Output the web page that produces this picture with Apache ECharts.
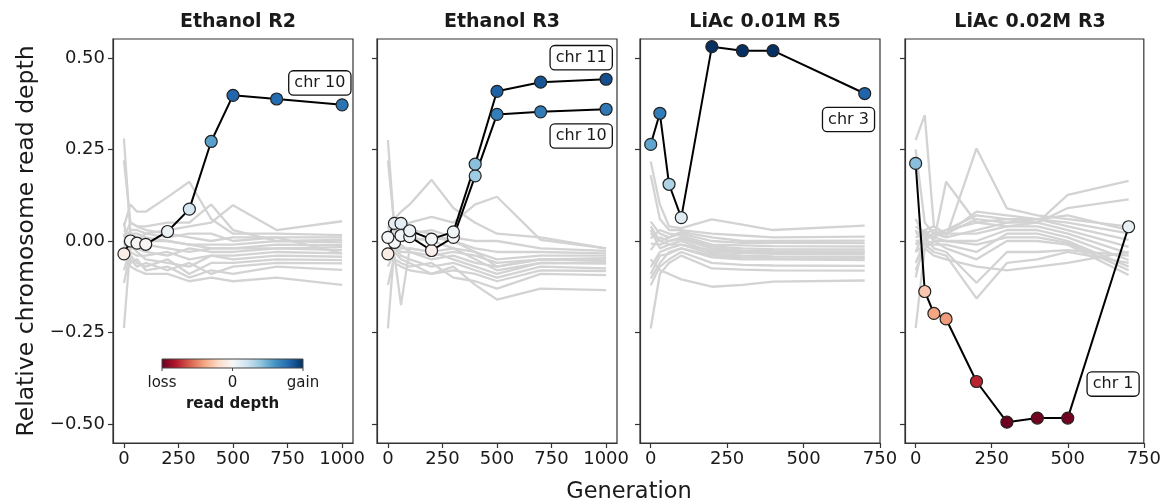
<!DOCTYPE html>
<html>
<head>
<meta charset="utf-8">
<script src="https://cdn.jsdelivr.net/npm/echarts@6/dist/echarts.min.js"></script>
<style>
  html, body { margin: 0; padding: 0; background: #fff; }
  #chart { width: 1164px; height: 504px; }
</style>
</head>
<body>
<div id="chart"></div>
<script>
// generations sampled in each experiment
const gensEthanol = [0, 30, 60, 100, 200, 300, 400, 500, 700, 1000]
const gensLiac1 = [0, 30, 60, 100, 200, 300, 400, 700]
const gensLiac2 = [0, 30, 60, 100, 200, 300, 400, 500, 700]

const panelTitles = ['Ethanol R2', 'Ethanol R3', 'LiAc 0.01M R5', 'LiAc 0.02M R3']
const yTicks = [-0.5, -0.25, 0, 0.25, 0.5]
const xTicksLong = [0, 250, 500, 750, 1000]
const xTicksShort = [0, 250, 500, 750]

// highlighted chromosomes
const ethR2Chr10 = [-0.035, 0.0, -0.006, -0.009, 0.026, 0.087, 0.272, 0.398, 0.388, 0.372]
const ethR3Chr11 = [0.010, 0.048, 0.048, 0.028, 0.005, 0.025, 0.210, 0.409, 0.434, 0.442]
const ethR3Chr10 = [-0.035, -0.004, 0.015, 0.012, -0.026, 0.010, 0.178, 0.346, 0.353, 0.360]
const liac1Chr3 = [0.264, 0.349, 0.155, 0.064, 0.531, 0.520, 0.520, 0.403]
const liac2Chr1 = [0.212, -0.138, -0.198, -0.213, -0.384, -0.495, -0.484, -0.484, 0.039]

// remaining chromosomes (grey)
const ethR2Other = [
  [0.28, 0.02, 0.02, 0.01, 0.00, -0.01, -0.02, -0.02, -0.02, -0.017],
  [0.22, 0.05, 0.04, 0.03, 0.02, 0.01, 0.00, 0.01, 0.01, 0.010],
  [0.04, 0.10, 0.08, 0.08, 0.12, 0.162, 0.06, 0.02, 0.02, 0.016],
  [0.01, 0.05, 0.04, 0.04, 0.05, 0.05, 0.10, 0.03, 0.00, 0.003],
  [0.00, 0.03, 0.03, 0.02, 0.03, 0.04, 0.05, 0.098, 0.03, 0.054],
  [-0.02, 0.02, 0.01, 0.00, 0.00, -0.01, -0.01, -0.01, 0.00, -0.004],
  [-0.05, 0.00, -0.01, -0.01, -0.02, -0.03, -0.02, -0.02, -0.01, -0.011],
  [-0.08, -0.02, -0.02, -0.03, -0.04, -0.02, -0.03, -0.03, -0.02, -0.025],
  [-0.115, -0.03, -0.04, -0.04, -0.03, -0.05, -0.04, -0.04, -0.03, -0.034],
  [-0.238, -0.01, -0.03, -0.05, -0.06, -0.07, -0.04, -0.05, -0.04, -0.043],
  [0.05, -0.04, -0.06, -0.07, -0.05, -0.09, -0.06, -0.06, -0.05, -0.052],
  [0.02, -0.05, -0.07, -0.06, -0.08, -0.06, -0.09, -0.07, -0.06, -0.061],
  [-0.03, -0.06, -0.05, -0.08, -0.07, -0.10, -0.08, -0.09, -0.07, -0.079],
  [0.00, -0.07, -0.08, -0.09, -0.09, -0.11, -0.10, -0.11, -0.10, -0.120],
  [0.03, 0.01, 0.00, 0.02, 0.01, 0.02, 0.02, 0.00, 0.01, -0.034]
]
const ethR3Other = [
  [0.276, 0.03, 0.02, 0.01, 0.00, -0.02, -0.05, -0.08, -0.06, -0.061],
  [0.22, 0.04, 0.03, 0.03, 0.02, 0.00, -0.03, -0.07, -0.05, -0.047],
  [0.00, 0.06, 0.08, 0.10, 0.167, 0.09, 0.05, 0.02, 0.01, -0.020],
  [0.02, 0.05, 0.04, 0.05, 0.066, 0.05, 0.10, 0.121, 0.003, -0.020],
  [-0.01, 0.03, 0.02, 0.02, 0.03, 0.01, 0.00, 0.00, -0.02, -0.027],
  [-0.03, 0.01, 0.00, 0.00, 0.01, 0.00, -0.02, -0.03, -0.03, -0.034],
  [-0.05, 0.00, -0.02, -0.02, -0.03, -0.02, -0.03, -0.05, -0.04, -0.040],
  [-0.239, -0.01, -0.03, -0.03, -0.05, -0.04, -0.06, -0.07, -0.05, -0.054],
  [-0.12, -0.04, -0.175, -0.02, -0.03, -0.05, -0.07, -0.09, -0.06, -0.061],
  [0.03, -0.02, -0.04, -0.05, -0.07, -0.06, -0.08, -0.10, -0.07, -0.075],
  [-0.07, -0.03, -0.05, -0.06, -0.09, -0.08, -0.09, -0.11, -0.08, -0.082],
  [0.01, -0.05, -0.06, -0.07, -0.06, -0.10, -0.11, -0.13, -0.09, -0.093],
  [-0.02, -0.06, -0.07, -0.08, -0.09, -0.07, -0.12, -0.16, -0.13, -0.134],
  [0.04, -0.02, -0.01, -0.03, -0.04, -0.03, -0.04, -0.06, -0.05, -0.054]
]
const liac1Other = [
  [0.217, 0.10, 0.04, 0.035, 0.059, 0.045, 0.030, 0.042],
  [0.18, 0.06, 0.03, 0.03, 0.02, 0.015, 0.01, 0.012],
  [0.053, 0.02, 0.01, 0.025, 0.01, 0.00, 0.00, 0.001],
  [0.021, 0.00, 0.01, 0.02, 0.00, -0.005, -0.005, -0.006],
  [0.007, 0.03, 0.02, 0.015, -0.01, -0.012, -0.014, -0.015],
  [-0.007, -0.01, 0.00, 0.01, -0.015, -0.02, -0.022, -0.023],
  [-0.025, 0.01, 0.00, 0.005, -0.02, -0.026, -0.028, -0.029],
  [0.03, -0.02, -0.01, 0.00, -0.03, -0.033, -0.035, -0.036],
  [-0.071, -0.03, -0.02, -0.01, -0.035, -0.04, -0.042, -0.043],
  [-0.103, -0.06, -0.03, -0.02, -0.045, -0.05, -0.05, -0.052],
  [-0.121, -0.07, -0.05, -0.03, -0.06, -0.065, -0.067, -0.068],
  [-0.239, -0.09, -0.06, -0.04, -0.075, -0.078, -0.08, -0.081],
  [-0.05, -0.08, -0.09, -0.105, -0.125, -0.12, -0.111, -0.108],
  [0.04, 0.00, -0.01, -0.01, -0.025, -0.03, -0.03, -0.03],
  [-0.09, -0.04, -0.035, -0.02, -0.04, -0.045, -0.047, -0.048]
]
const liac2Other = [
  [0.276, 0.344, 0.04, 0.02, 0.06, 0.05, 0.06, 0.07, 0.03],
  [0.25, 0.05, 0.02, 0.03, 0.07, 0.06, 0.05, 0.126, 0.164],
  [0.02, 0.03, 0.00, 0.162, 0.05, 0.04, 0.05, 0.09, 0.114],
  [0.01, 0.02, 0.03, 0.01, 0.253, 0.089, 0.07, 0.06, 0.039],
  [0.06, 0.01, 0.02, 0.02, 0.08, 0.07, 0.06, 0.05, 0.021],
  [-0.01, 0.02, 0.01, 0.03, 0.05, 0.06, 0.06, 0.04, 0.003],
  [0.00, 0.00, 0.02, 0.01, 0.03, 0.05, 0.05, 0.03, -0.016],
  [-0.03, 0.03, 0.04, 0.02, 0.02, 0.04, 0.04, 0.02, -0.034],
  [0.03, -0.01, 0.00, 0.00, 0.00, 0.03, 0.03, 0.01, -0.052],
  [-0.06, 0.00, -0.01, -0.01, -0.03, 0.02, 0.02, 0.00, -0.070],
  [-0.238, -0.02, 0.00, -0.02, -0.05, 0.00, 0.00, -0.01, -0.093],
  [-0.10, 0.01, -0.02, -0.03, -0.114, -0.03, -0.03, -0.025, -0.04],
  [-0.03, -0.01, -0.03, -0.04, -0.157, -0.06, -0.05, -0.03, -0.06],
  [0.04, 0.02, 0.01, 0.00, -0.01, 0.01, 0.01, -0.005, -0.08],
  [-0.08, -0.02, -0.04, -0.05, -0.07, -0.08, -0.07, -0.06, -0.03]
]

// label anchors (generation, depth) for the chr boxes
const labelChr10R2 = [898, 0.432]
const labelChr11R3 = [886, 0.501]
const labelChr10R3 = [886, 0.287]
const labelChr3 = [647, 0.332]
const labelChr1 = [649, -0.391]

// RdBu colormap, vmin -0.5 .. vmax 0.5
const rdbu = ['#67001f', '#b2182b', '#d6604d', '#f4a582', '#fddbc7', '#f7f7f7',
  '#d1e5f0', '#92c5de', '#4393c3', '#2166ac', '#053061']

const hexToRgb = (h) => [1, 3, 5].map(i => parseInt(h.slice(i, i + 2), 16))

const depthColor = (v) => {
  let t = (v + 0.5) / 1.0
  t = Math.max(0, Math.min(1, t))
  const pos = t * (rdbu.length - 1)
  const i = Math.min(Math.floor(pos), rdbu.length - 2)
  const f = pos - i
  const a = hexToRgb(rdbu[i])
  const b = hexToRgb(rdbu[i + 1])
  const c = a.map((x, k) => Math.round(x + (b[k] - x) * f))
  return `rgb(${c[0]},${c[1]},${c[2]})`
}

const zip = (gens, vals) => gens.map((g, i) => [g, vals[i]])

const FONT = 'DejaVu Sans'
const INK = '#1a1a1a'

const panels = [
  { gens: gensEthanol, other: ethR2Other, xMin: -50, xMax: 1050, xTicks: xTicksLong,
    hl: [{ name: 'chr 10', vals: ethR2Chr10, at: labelChr10R2 }] },
  { gens: gensEthanol, other: ethR3Other, xMin: -50, xMax: 1050, xTicks: xTicksLong,
    hl: [{ name: 'chr 10', vals: ethR3Chr10, at: labelChr10R3 },
         { name: 'chr 11', vals: ethR3Chr11, at: labelChr11R3 }] },
  { gens: gensLiac1, other: liac1Other, xMin: -35, xMax: 750, xTicks: xTicksShort,
    hl: [{ name: 'chr 3', vals: liac1Chr3, at: labelChr3 }] },
  { gens: gensLiac2, other: liac2Other, xMin: -35, xMax: 750, xTicks: xTicksShort,
    hl: [{ name: 'chr 1', vals: liac2Chr1, at: labelChr1 }] }
]

const gridLefts = [113, 377, 640, 905]
const gridWidth = 240
const gridTop = 39
const gridHeight = 404

const chart = echarts.init(document.getElementById('chart'))

const grids = []
const xAxes = []
const yAxes = []
const titles = []
const series = []

panels.forEach((p, i) => {
  grids.push({
    left: gridLefts[i], top: gridTop, width: gridWidth, height: gridHeight,
    show: true, borderColor: '#333', borderWidth: 1.2, backgroundColor: '#fff'
  })
  titles.push({
    text: panelTitles[i],
    left: gridLefts[i] + gridWidth / 2,
    top: 8,
    textAlign: 'center',
    textStyle: { fontFamily: FONT, fontWeight: 'bold', fontSize: 19, color: INK }
  })
  xAxes.push({
    type: 'value', gridIndex: i, min: p.xMin, max: p.xMax,
    axisLine: { show: true, onZero: false, lineStyle: { color: '#333', width: 1.2 } },
    axisTick: { show: true, customValues: p.xTicks, length: 5, lineStyle: { color: '#333', width: 1.2 } },
    axisLabel: {
      customValues: p.xTicks, fontSize: 18, fontFamily: FONT, color: INK, margin: 7,
      formatter: (v) => String(v)
    },
    splitLine: { show: false }
  })
  yAxes.push({
    type: 'value', gridIndex: i, min: -0.552, max: 0.552,
    axisLine: { show: true, onZero: false, lineStyle: { color: '#333', width: 1.2 } },
    axisTick: { show: true, customValues: yTicks, length: 5, lineStyle: { color: '#333', width: 1.2 } },
    axisLabel: {
      show: i === 0, customValues: yTicks, fontSize: 18, fontFamily: FONT, color: INK, margin: 8,
      formatter: (v) => (v < 0 ? '\u2212' : '') + Math.abs(v).toFixed(2)
    },
    splitLine: { show: false }
  })

  p.other.forEach((vals) => {
    series.push({
      type: 'line', xAxisIndex: i, yAxisIndex: i, data: zip(p.gens, vals),
      symbol: 'none', silent: true, z: 2,
      lineStyle: { color: '#d3d3d3', width: 2.3 }
    })
  })

  p.hl.forEach((h) => {
    series.push({
      type: 'line', xAxisIndex: i, yAxisIndex: i, data: zip(p.gens, h.vals),
      symbol: 'circle', symbolSize: 12, z: 5,
      lineStyle: { color: '#000', width: 2 },
      itemStyle: {
        color: (params) => depthColor(params.value[1]),
        borderColor: '#222', borderWidth: 1.2
      },
      markPoint: {
        symbol: 'circle', symbolSize: 1,
        itemStyle: { color: 'rgba(0,0,0,0)' },
        label: {
          show: true, position: 'inside', formatter: h.name,
          fontFamily: FONT, fontSize: 16, color: INK,
          backgroundColor: '#fff', borderColor: '#111', borderWidth: 1.3,
          borderRadius: 4, padding: [4, 5, 3, 5]
        },
        data: [{ coord: h.at }]
      }
    })
  })
})

// colour bar inside the first panel
const barX = 162, barY = 359, barW = 141, barH = 9
const gradStops = rdbu.map((c, k) => ({ offset: k / (rdbu.length - 1), color: c }))

const graphic = [
  {
    type: 'rect', shape: { x: barX, y: barY, width: barW, height: barH }, z: 10,
    style: {
      fill: new echarts.graphic.LinearGradient(0, 0, 1, 0, gradStops),
      stroke: '#444', lineWidth: 1
    }
  },
  ...[0, 0.5, 1].map(f => ({
    type: 'line', z: 10,
    shape: { x1: barX + barW * f, y1: barY + barH, x2: barX + barW * f, y2: barY + barH + 3 },
    style: { stroke: '#444', lineWidth: 1 }
  })),
  ...[['loss', 0], ['0', 0.5], ['gain', 1]].map(([t, f]) => ({
    type: 'text', z: 10, x: barX + barW * f, y: 383,
    style: { text: t, fontFamily: FONT, fontSize: 15, fill: INK, textAlign: 'center', textVerticalAlign: 'middle' }
  })),
  {
    type: 'text', z: 10, x: barX + barW / 2, y: 404,
    style: { text: 'read depth', fontFamily: FONT, fontSize: 15, fontWeight: 'bold', fill: INK, textAlign: 'center', textVerticalAlign: 'middle' }
  },
  {
    type: 'text', x: 27, y: 241, rotation: Math.PI / 2,
    style: { text: 'Relative chromosome read depth', fontFamily: FONT, fontSize: 23.5, fill: INK, textAlign: 'center', textVerticalAlign: 'middle' }
  },
  {
    type: 'text', x: 629, y: 492,
    style: { text: 'Generation', fontFamily: FONT, fontSize: 22.5, fill: INK, textAlign: 'center', textVerticalAlign: 'middle' }
  }
]

chart.setOption({
  backgroundColor: '#fff',
  animation: false,
  title: titles,
  grid: grids,
  xAxis: xAxes,
  yAxis: yAxes,
  series: series,
  graphic: graphic
})
</script>
</body>
</html>
